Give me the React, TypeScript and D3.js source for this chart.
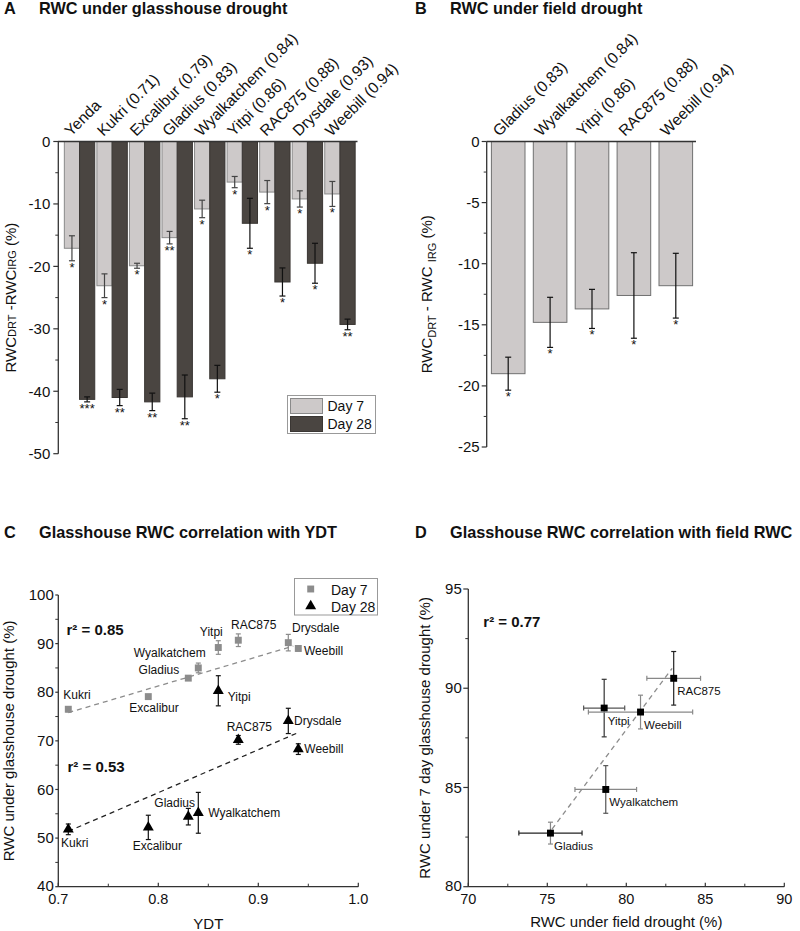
import { useEffect, useRef } from "react";
import * as d3 from "d3";

const W = 800;
const H = 931;
const FONT = '"Liberation Sans", Arial, Helvetica, sans-serif';

// Panel A: glasshouse RWC change (drought - irrigated), %
const glassCultivars = [
  "Yenda",
  "Kukri (0.71)",
  "Excalibur (0.79)",
  "Gladius (0.83)",
  "Wyalkatchem (0.84)",
  "Yitpi (0.86)",
  "RAC875 (0.88)",
  "Drysdale (0.93)",
  "Weebill (0.94)",
];
const day7Change = [-17.1, -23.1, -19.9, -15.4, -10.8, -6.5, -8.1, -9.2, -8.4];
const day7ChangeErr = [2.0, 1.9, 0.4, 1.0, 1.4, 0.9, 1.85, 1.3, 2.0];
const day7ChangeSig = ["*", "*", "*", "**", "*", "*", "*", "*", "*"];
const day28Change = [-41.3, -41.0, -41.7, -40.9, -38.0, -13.1, -22.5, -19.5, -29.3];
const day28ChangeErr = [0.4, 1.3, 1.4, 3.5, 2.15, 4.0, 2.25, 3.2, 0.85];
const day28ChangeSig = ["***", "**", "**", "**", "*", "*", "*", "*", "**"];

// Panel B: field RWC change
const fieldCultivars = ["Gladius (0.83)", "Wyalkatchem (0.84)", "Yitpi (0.86)", "RAC875 (0.88)", "Weebill (0.94)"];
const fieldChange = [-19.0, -14.8, -13.7, -12.6, -11.8];
const fieldChangeErr = [1.35, 2.05, 1.6, 3.5, 2.65];
const fieldChangeSig = ["*", "*", "*", "*", "*"];

// Panel C: glasshouse RWC vs YDT
const ydtNames = ["Kukri", "Excalibur", "Gladius", "Wyalkatchem", "Yitpi", "RAC875", "Drysdale", "Weebill"];
const ydt = [0.71, 0.79, 0.83, 0.84, 0.86, 0.88, 0.93, 0.94];
const rwcDay7 = [76.5, 79.1, 82.9, 85.0, 89.2, 90.7, 90.2, 89.0];
const rwcDay7Err = [0.5, 0.3, 0.3, 1.0, 1.4, 1.3, 1.7, 0.5];
const rwcDay28 = [51.8, 52.2, 54.4, 55.2, 80.3, 70.2, 74.1, 68.3];
const rwcDay28Err = [1.1, 2.5, 1.7, 4.2, 3.1, 0.9, 2.6, 1.1];
const fitDay7: [number, number][] = [[0.71, 75.8], [0.935, 89.5]];
const fitDay28: [number, number][] = [[0.71, 51.4], [0.94, 71.7]];

// Panel D: glasshouse day-7 RWC vs field RWC
const corrNames = ["Gladius", "Wyalkatchem", "Yitpi", "Weebill", "RAC875"];
const fieldRwc = [75.2, 78.7, 78.6, 80.9, 83.0];
const fieldRwcErr = [2.0, 1.95, 1.3, 3.3, 1.7];
const glassRwc = [82.7, 84.9, 89.0, 88.8, 90.5];
const glassRwcErr = [0.55, 1.2, 1.45, 0.85, 1.35];
const fitCorr: [number, number][] = [[75.3, 82.9], [82.9, 91.0]];

// label offsets (px) for scatter annotations
const labelDay7: Record<string, [number, number, string]> = {
  Kukri: [-5, -10, "start"],
  Excalibur: [-19, 15.6, "start"],
  Gladius: [-9, -4, "end"],
  Wyalkatchem: [7.4, -11.3, "end"],
  Yitpi: [-7, -11.3, "middle"],
  RAC875: [-7.3, -11.3, "start"],
  Drysdale: [3.7, -11, "start"],
  Weebill: [5.7, 7, "start"],
};
const labelDay28: Record<string, [number, number, string]> = {
  Kukri: [-7.3, 18, "start"],
  Excalibur: [-15.6, 22.7, "start"],
  Gladius: [6.7, -10, "end"],
  Wyalkatchem: [10, 4, "start"],
  Yitpi: [9.4, 10, "start"],
  RAC875: [-11.6, -9.3, "start"],
  Drysdale: [5.7, 4, "start"],
  Weebill: [6, 4.3, "start"],
};
const corrErrColor: Record<string, [string, string]> = {
  Gladius: ["#222", "#888"],
  Wyalkatchem: ["#888", "#555"],
  Yitpi: ["#555", "#333"],
  Weebill: ["#888", "#888"],
  RAC875: ["#888", "#222"],
};

const LIGHT = "#cdc9c9";
const DARK = "#4a4541";
const AXIS = "#333";

export default function App() {
  const ref = useRef<SVGSVGElement | null>(null);

  useEffect(() => {
    if (!ref.current) return;
    const svg = d3.select(ref.current);
    svg.selectAll("*").remove();
    svg.append("rect").attr("width", W).attr("height", H).attr("fill", "#fff");

    const text = (g: any, x: number, y: number, s: string, size: number, opts: any = {}) =>
      g
        .append("text")
        .attr("x", x)
        .attr("y", y)
        .attr("font-size", size)
        .attr("font-family", FONT)
        .attr("font-weight", opts.bold ? "bold" : null)
        .attr("text-anchor", opts.anchor || "start")
        .attr("dy", opts.dy || null)
        .attr("fill", opts.fill || "#111")
        .attr("transform", opts.rotate != null ? `rotate(${opts.rotate},${x},${y})` : null)
        .text(s);

    const line = (g: any, x1: number, y1: number, x2: number, y2: number, color = AXIS, w = 1.2, dash: string | null = null) =>
      g
        .append("line")
        .attr("x1", x1)
        .attr("y1", y1)
        .attr("x2", x2)
        .attr("y2", y2)
        .attr("stroke", color)
        .attr("stroke-width", w)
        .attr("stroke-dasharray", dash);

    function leftAxis(y: any, x0: number, majors: number[], minors: number[], tick: number, pad: number, size = 15) {
      const g = svg.append("g");
      const [a, b] = y.range();
      line(g, x0, a, x0, b, AXIS, 1.3);
      majors.forEach((v) => {
        line(g, x0 - tick, y(v), x0, y(v), AXIS, 1.2);
        text(g, x0 - tick - pad, y(v), String(v), size, { anchor: "end", dy: "0.35em" });
      });
      minors.forEach((v) => line(g, x0 - 3, y(v), x0, y(v), AXIS, 1));
    }

    function bottomAxis(x: any, y0: number, majors: number[], minors: number[], fmt: (v: number) => string) {
      const g = svg.append("g");
      const [a, b] = x.range();
      line(g, a, y0, b, y0, AXIS, 1.3);
      majors.forEach((v) => {
        line(g, x(v), y0, x(v), y0 - 4, AXIS, 1.2);
        text(g, x(v), y0 + 17, fmt(v), 14.5, { anchor: "middle" });
      });
      minors.forEach((v) => line(g, x(v), y0, x(v), y0 - 3, AXIS, 1));
    }

    function errBar(g: any, cx: number, y1: number, y2: number, color: string, cap = 3) {
      line(g, cx, y1, cx, y2, color, 1.2);
      line(g, cx - cap, y1, cx + cap, y1, color, 1.2);
      line(g, cx - cap, y2, cx + cap, y2, color, 1.2);
    }
    function errBarH(g: any, cy: number, x1: number, x2: number, color: string, cap = 2.5) {
      line(g, x1, cy, x2, cy, color, 1.2);
      line(g, x1, cy - cap, x1, cy + cap, color, 1.2);
      line(g, x2, cy - cap, x2, cy + cap, color, 1.2);
    }

    // ---------- Titles ----------
    const titles: [number, number, string, string][] = [
      [4, 14, "A", "RWC under glasshouse drought"],
      [415, 14, "B", "RWC under field drought"],
      [4, 538, "C", "Glasshouse RWC correlation with YDT"],
      [415, 538, "D", "Glasshouse RWC correlation with field RWC"],
    ];
    titles.forEach(([x, y, l, t]) => {
      text(svg, x, y, l, 16.3, { bold: true });
      text(svg, x + 35, y, t, 16.3, { bold: true });
    });

    // ---------- Panel A ----------
    const gA = svg.append("g");
    const yA = d3.scaleLinear().domain([-50, 0]).range([453.7, 141.5]);
    const xA = d3.scaleBand().domain(glassCultivars).range([62, 357.5]).paddingInner(0.066).paddingOuter(0.072);
    const half = xA.bandwidth() / 2;
    glassCultivars.forEach((c, i) => {
      const x0 = xA(c)!;
      const series = [
        { v: day7Change[i], e: day7ChangeErr[i], s: day7ChangeSig[i], x: x0, fill: LIGHT, stroke: "#8a8a8a", ec: "#444" },
        { v: day28Change[i], e: day28ChangeErr[i], s: day28ChangeSig[i], x: x0 + half, fill: DARK, stroke: "#3a3633", ec: "#111" },
      ];
      series.forEach((d) => {
        gA.append("rect")
          .attr("x", d.x)
          .attr("y", yA(0))
          .attr("width", half)
          .attr("height", yA(d.v) - yA(0))
          .attr("fill", d.fill)
          .attr("stroke", d.stroke)
          .attr("stroke-width", 1);
      });
      series.forEach((d) => {
        const cx = d.x + half / 2;
        errBar(gA, cx, yA(d.v + d.e), yA(d.v - d.e), d.ec);
        text(gA, cx, yA(d.v - d.e) + 11, d.s, 13, { anchor: "middle" });
      });
      text(gA, x0 + half - 8.5, 137, c, 15.5, { rotate: -45 });
    });
    line(gA, 58, yA(0), 357.5, yA(0), AXIS, 1.3);
    leftAxis(yA, 58.3, [0, -10, -20, -30, -40, -50], [-5, -15, -25, -35, -45], 5, 3);
    const labA = gA.append("text")
      .attr("transform", `translate(15.5,${yA(-25)}) rotate(-90)`)
      .attr("text-anchor", "middle")
      .attr("font-family", FONT)
      .attr("font-size", 15)
      .attr("fill", "#111");
    labA.append("tspan").text("RWC");
    labA.append("tspan").attr("font-size", 11).text("DRT");
    labA.append("tspan").text(" -RWC");
    labA.append("tspan").attr("font-size", 11).text("IRG");
    labA.append("tspan").text(" (%)");

    // legend A
    gA.append("rect").attr("x", 287.5).attr("y", 395.5).attr("width", 88).attr("height", 38)
      .attr("fill", "#fff").attr("stroke", "#999").attr("stroke-width", 1);
    gA.append("rect").attr("x", 290.5).attr("y", 398.5).attr("width", 32).attr("height", 15)
      .attr("fill", LIGHT).attr("stroke", "#8a8a8a");
    gA.append("rect").attr("x", 290.5).attr("y", 416.5).attr("width", 32).attr("height", 15)
      .attr("fill", DARK).attr("stroke", "#3a3633");
    text(gA, 327.5, 410.5, "Day 7", 14);
    text(gA, 327.5, 428.5, "Day 28", 14);

    // ---------- Panel B ----------
    const gB = svg.append("g");
    const yB = d3.scaleLinear().domain([-25, 0]).range([447, 141.5]);
    const xB = d3.scaleBand().domain(fieldCultivars).range([487, 697]).paddingInner(0.198).paddingOuter(0.105);
    fieldCultivars.forEach((c, i) => {
      const x0 = xB(c)!;
      const bw = xB.bandwidth();
      const v = fieldChange[i];
      const e = fieldChangeErr[i];
      gB.append("rect")
        .attr("x", x0)
        .attr("y", yB(0))
        .attr("width", bw)
        .attr("height", yB(v) - yB(0))
        .attr("fill", LIGHT)
        .attr("stroke", "#707070")
        .attr("stroke-width", 1);
      errBar(gB, x0 + bw / 2, yB(v + e), yB(v - e), "#111");
      text(gB, x0 + bw / 2, yB(v - e) + 11, fieldChangeSig[i], 13, { anchor: "middle" });
      text(gB, x0 + bw / 2 - 9, 137, c, 15.5, { rotate: -45 });
    });
    line(gB, 486.7, yB(0), 696, yB(0), AXIS, 1.3);
    leftAxis(yB, 486.7, [0, -5, -10, -15, -20, -25], [-2.5, -7.5, -12.5, -17.5, -22.5], 5, 2);
    const labB = gB.append("text")
      .attr("transform", `translate(432,${yB(-12.5)}) rotate(-90)`)
      .attr("text-anchor", "middle")
      .attr("font-family", FONT)
      .attr("font-size", 15)
      .attr("fill", "#111");
    labB.append("tspan").text("RWC");
    labB.append("tspan").attr("font-size", 11).attr("dy", 4).text("DRT");
    labB.append("tspan").attr("dy", -4).text(" - RWC ");
    labB.append("tspan").attr("font-size", 11).attr("dy", 4).text("IRG");
    labB.append("tspan").attr("dy", -4).text(" (%)");

    // ---------- Panel C ----------
    const gC = svg.append("g");
    const xC = d3.scaleLinear().domain([0.7, 1.0]).range([58.3, 358.3]);
    const yC = d3.scaleLinear().domain([40, 100]).range([886.7, 595]);
    const lineGen = d3.line<[number, number]>().x((d) => xC(d[0])).y((d) => yC(d[1]));
    gC.append("path").attr("d", lineGen(fitDay7)).attr("fill", "none").attr("stroke", "#8c8c8c")
      .attr("stroke-width", 1.3).attr("stroke-dasharray", "5,4");
    gC.append("path").attr("d", lineGen(fitDay28)).attr("fill", "none").attr("stroke", "#222")
      .attr("stroke-width", 1.3).attr("stroke-dasharray", "5,4");
    const sq = d3.symbol().type(d3.symbolSquare).size(48)();
    const tri = d3.symbol().type(d3.symbolTriangle).size(52)();
    ydtNames.forEach((n, i) => {
      const x = xC(ydt[i]);
      errBar(gC, x, yC(rwcDay7[i] + rwcDay7Err[i]), yC(rwcDay7[i] - rwcDay7Err[i]), "#8c8c8c", 2.5);
      gC.append("path").attr("d", sq).attr("transform", `translate(${x},${yC(rwcDay7[i])})`).attr("fill", "#8c8c8c");
      errBar(gC, x, yC(rwcDay28[i] + rwcDay28Err[i]), yC(rwcDay28[i] - rwcDay28Err[i]), "#111", 2.5);
      gC.append("path").attr("d", tri).attr("transform", `translate(${x},${yC(rwcDay28[i])})`).attr("fill", "#000");
      const a = labelDay7[n];
      text(gC, x + a[0], yC(rwcDay7[i]) + a[1], n, 12, { anchor: a[2] });
      const b = labelDay28[n];
      text(gC, x + b[0], yC(rwcDay28[i]) + b[1], n, 12, { anchor: b[2] });
    });
    leftAxis(yC, 58.3, [50, 60, 70, 80, 90, 100], [45, 55, 65, 75, 85, 95], 3, 1.5);
    // lowest label sits just above the x tick labels, as in the original
    line(gC, 55.3, yC(40), 58.3, yC(40), AXIS, 1.2);
    text(gC, 53.8, yC(40) + 4, "40", 15, { anchor: "end" });
    bottomAxis(xC, 886.7, [0.7, 0.8, 0.9, 1.0], [0.75, 0.85, 0.95], (v) => d3.format(".1f")(v));
    text(gC, 66.5, 635, "r² = 0.85", 15, { bold: true });
    text(gC, 67.5, 771.7, "r² = 0.53", 15, { bold: true });
    text(gC, 14, yC(70), "RWC under glasshouse drought (%)", 15, { anchor: "middle", rotate: -90 });
    text(gC, xC(0.85), 929, "YDT", 15, { anchor: "middle" });
    // legend C
    gC.append("rect").attr("x", 294.5).attr("y", 578.5).attr("width", 83).attr("height", 36.5)
      .attr("fill", "#fff").attr("stroke", "#999").attr("stroke-width", 1);
    gC.append("path").attr("d", sq).attr("transform", "translate(310.7,589)").attr("fill", "#8c8c8c");
    gC.append("path").attr("d", tri).attr("transform", "translate(310.7,606)").attr("fill", "#000");
    text(gC, 331, 595, "Day 7", 14);
    text(gC, 331, 611.7, "Day 28", 14);

    // ---------- Panel D ----------
    const gD = svg.append("g");
    const xD = d3.scaleLinear().domain([70, 90]).range([468.3, 784.3]);
    const yD = d3.scaleLinear().domain([80, 95]).range([886.7, 589]);
    const lineD = d3.line<[number, number]>().x((d) => xD(d[0])).y((d) => yD(d[1]));
    gD.append("path").attr("d", lineD(fitCorr)).attr("fill", "none").attr("stroke", "#8c8c8c")
      .attr("stroke-width", 1.3).attr("stroke-dasharray", "5,4");
    corrNames.forEach((n, i) => {
      const x = xD(fieldRwc[i]);
      const y = yD(glassRwc[i]);
      const [cx, cy] = corrErrColor[n];
      errBarH(gD, y, xD(fieldRwc[i] - fieldRwcErr[i]), xD(fieldRwc[i] + fieldRwcErr[i]), cx);
      errBar(gD, x, yD(glassRwc[i] + glassRwcErr[i]), yD(glassRwc[i] - glassRwcErr[i]), cy, 2.5);
      gD.append("path").attr("d", sq).attr("transform", `translate(${x},${y})`).attr("fill", "#000");
      text(gD, x + 3.5, y + 16.5, n, 11.5);
    });
    leftAxis(yD, 468.3, [85, 90, 95], [82.5, 87.5, 92.5], 5, 1.5);
    line(gD, 463.3, yD(80), 468.3, yD(80), AXIS, 1.2);
    text(gD, 461.8, yD(80) + 4, "80", 15, { anchor: "end" });
    bottomAxis(xD, 886.7, [70, 75, 80, 85, 90], [72.5, 77.5, 82.5, 87.5], (v) => String(v));
    text(gD, 483.3, 626.7, "r² = 0.77", 15, { bold: true });
    text(gD, 430, yD(87.5), "RWC  under 7 day glasshouse drought (%)", 15, { anchor: "middle", rotate: -90 });
    text(gD, xD(80), 927, "RWC under field drought (%)", 15, { anchor: "middle" });
  }, []);

  return (
    <svg
      ref={ref}
      width={W}
      height={H}
      style={{ position: "absolute", left: 0, top: 0, background: "#fff" }}
    />
  );
}
